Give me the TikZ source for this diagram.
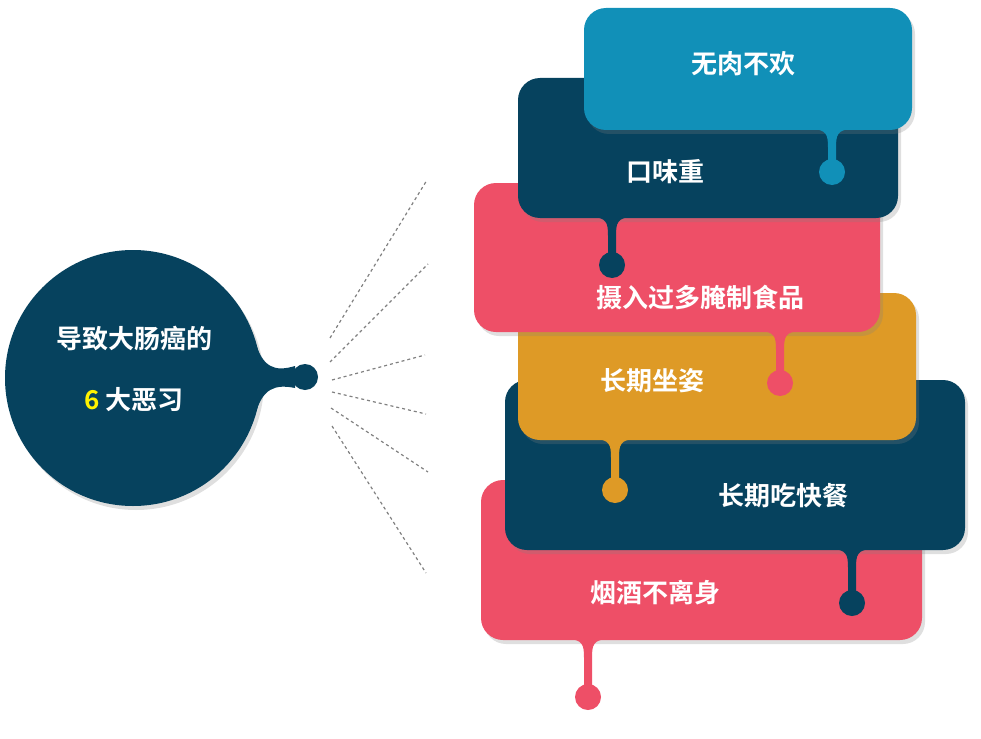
\documentclass[tikz,border=0pt]{standalone}
\usepackage{fontspec}
\newfontfamily\cjk{Noto Sans CJK SC Bold}
\usetikzlibrary{shadows}
\definecolor{cy}{HTML}{1190B8}
\definecolor{nv}{HTML}{06425E}
\definecolor{pk}{HTML}{EE4F67}
\definecolor{gd}{HTML}{DE9A26}
\tikzset{
 boxs/.style={rounded corners=22pt, drop shadow={opacity=0.25,shadow xshift=3pt,shadow yshift=-4pt}},
 lbl/.style={text=white, font=\cjk\fontsize{26}{30}\selectfont},
 dash/.style={}, dl/.style={draw=gray, dashed, line width=1.2pt}
}
% \dropbox{name}{color}{x1}{y1}{x2}{y2}{tailx}{dropy}
\newcommand\dropbox[8]{%
 \fill[#2,boxs] (#3,#4) rectangle (#5,#6);
 \fill[#2] (#7-22,#6-1) .. controls (#7-5,#6-1) and (#7-4,#6+5) .. (#7-4,#6+18) -- (#7-4,#8) -- (#7+4,#8) -- (#7+4,#6+18) .. controls (#7+4,#6+5) and (#7+5,#6-1) .. (#7+22,#6-1) -- cycle;
 \fill[#2] (#7,#8) circle (13);
 \coordinate (#1) at (#7,#8);
}
\begin{document}
\begin{tikzpicture}[x=1pt,y=-1pt]
\useasboundingbox (0,0) rectangle (981,738);
% left circle
\fill[nv, drop shadow={opacity=0.25,shadow xshift=3pt,shadow yshift=-4pt}] (133,378) circle (128);
\fill[nv] (255,340) .. controls (262,368) and (275,372) .. (295,366) -- (295,388) .. controls (275,384) and (262,388) .. (255,416) -- cycle;
\fill[nv] (305,377) circle (13);
\coordinate (hub) at (305,377);
\node[lbl] (t1) at (134,338) {导致大肠癌的};
\node[lbl, anchor=center] (t2) at (134,400) {\textcolor{yellow}{6} 大恶习};
% dashed rays
\coordinate (a1) at (330,338); \coordinate (b1) at (427,180);
\coordinate (a2) at (330,362); \coordinate (b2) at (428,264);
\coordinate (a3) at (332,380); \coordinate (b3) at (425,355);
\coordinate (a4) at (332,392); \coordinate (b4) at (426,414);
\coordinate (a5) at (331,408); \coordinate (b5) at (428,472);
\coordinate (a6) at (332,426); \coordinate (b6) at (426,573);
\foreach \i in {1,...,6} \draw[dl] (a\i) -- (b\i);
% boxes bottom to top
\dropbox{d6}{pk}{481}{480}{922}{640}{588}{697}
\node[lbl] (n6) at (655,593) {烟酒不离身};
\dropbox{d5}{nv}{505}{380}{965}{550}{852}{603}
\node[lbl] (n5) at (783,496) {长期吃快餐};
\dropbox{d4}{gd}{518}{293}{916}{440}{615}{490}
\node[lbl] (n4) at (652,381) {长期坐姿};
\dropbox{d3}{pk}{474}{183}{880}{332}{780}{383}
\node[lbl] (n3) at (700,298) {摄入过多腌制食品};
\dropbox{d2}{nv}{518}{78}{898}{218}{612}{265}
\node[lbl] (n2) at (665,172) {口味重};
\dropbox{d1}{cy}{584}{8}{912}{130}{832}{172}
\node[lbl] (n1) at (743,64) {无肉不欢};
\end{tikzpicture}
\end{document}
